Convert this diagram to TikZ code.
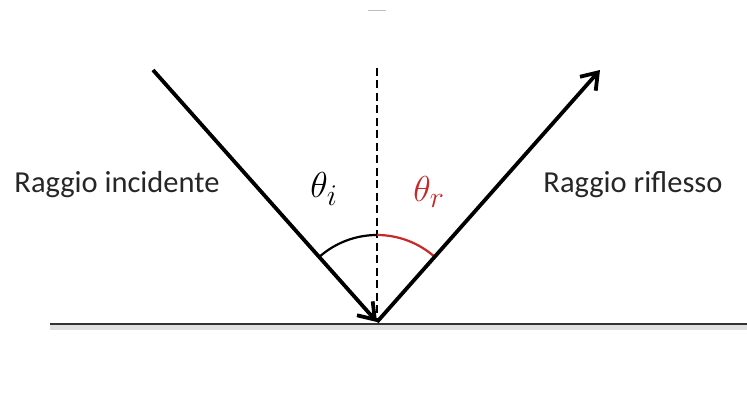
\documentclass[tikz,border=0pt]{standalone}
\usepackage{fontspec}
\setmainfont{Carlito}
\usetikzlibrary{arrows.meta}
\definecolor{arcred}{RGB}{200,40,40}
\newcommand{\bigmath}[1]{\scalebox{1.45}{$#1$}}
\begin{document}
\begin{tikzpicture}[x=1pt,y=-1pt,
  ray/.style={line width=3.8pt,-{Straight Barb[length=15pt,width=21pt,line width=3.8pt]}},
  normalline/.style={line width=2.4pt,dash pattern=on 8pt off 4.5pt},
  surface/.style={line width=1.6pt,black!80},
  lbl/.style={font=\fontsize{30.5}{34}\selectfont,text=black!85},
  anglbl/.style={font=\fontsize{24.88}{30}\selectfont}]
\useasboundingbox (0,0) rectangle (747,403);
\fill[black!12] (50,325) rectangle (747,330);
\coordinate (O) at (377,322);
\coordinate (A) at (153,70);
\coordinate (B) at (600,70);
\coordinate (N) at (377,68);
\coordinate (SL) at (50,324);
\coordinate (SR) at (747,324);
\draw[surface] (SL) -- (SR);
\draw[normalline] (N) -- (O);
\draw[line width=2.2pt] ([shift={(90:87pt)}]O) arc[start angle=90,end angle=131.6,radius=87pt];
\draw[line width=2.2pt,arcred] ([shift={(90:87pt)}]O) arc[start angle=90,end angle=48.4,radius=87pt];
\draw[ray] (A) -- (O);
\draw[ray] (O) -- (B);
\node[lbl] (inc) at (117,185) {Raggio incidente};
\node[lbl] (rif) at (633,185) {Raggio riflesso};
\node[anglbl] (ti) at (324,189) {\bigmath{\theta_i}};
\node[anglbl,text=arcred] (tr) at (429,192) {\bigmath{\theta_r}};
\draw[black!25,line width=1pt] (368,11) -- (386,11);
\end{tikzpicture}
\end{document}
